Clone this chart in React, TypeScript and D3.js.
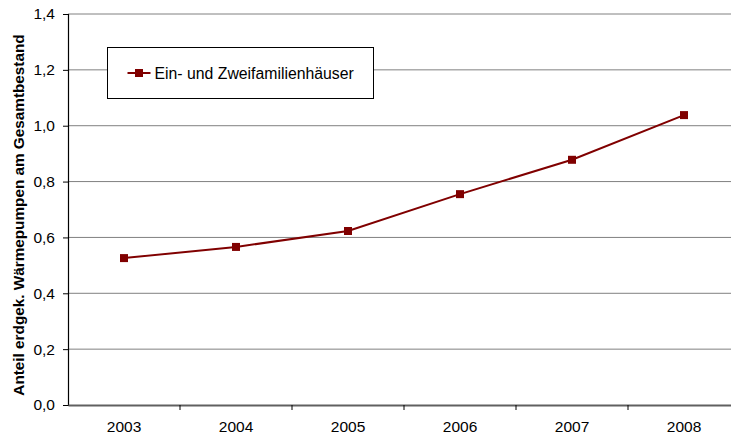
import { useEffect, useRef } from 'react';
import * as d3 from 'd3';

const years = ['2003', '2004', '2005', '2006', '2007', '2008'];
const shares = [0.526, 0.566, 0.623, 0.755, 0.878, 1.038];
const yTicks = [0, 0.2, 0.4, 0.6, 0.8, 1.0, 1.2, 1.4];
const seriesName = 'Ein- und Zweifamilienhäuser';
const yTitle = 'Anteil erdgek. Wärmepumpen am Gesamtbestand';

function App() {
  const ref = useRef<SVGSVGElement>(null);

  const svgWidth = 731;
  const svgHeight = 439;

  useEffect(() => {
    const svg = d3.select(ref.current);
    svg.selectAll('*').remove();

    const left = 68;
    const right = 740;
    const top = 14;
    const bottom = 405;
    const font = 'Liberation Sans, Arial, sans-serif';
    const red = '#800000';

    const x = d3.scaleBand().domain(years).range([left, right]);
    const y = d3.scaleLinear().domain([0, 1.4]).range([bottom, top]);

    // Gridlines
    svg
      .append('g')
      .selectAll()
      .data(yTicks.slice(1))
      .join('line')
      .attr('x1', left)
      .attr('x2', right)
      .attr('y1', (d) => y(d))
      .attr('y2', (d) => y(d))
      .attr('stroke', '#808080')
      .attr('stroke-width', 1);

    // Y axis
    const yAxis = svg
      .append('g')
      .attr('transform', `translate(${left}, 0)`)
      .call(
        d3
          .axisLeft(y)
          .tickValues(yTicks)
          .tickSize(5)
          .tickPadding(8)
          .tickFormat((d) => d3.format('.1f')(d as number).replace('.', ','))
      );
    yAxis.select('.domain').attr('stroke', '#000').attr('stroke-width', 1.2);
    yAxis.selectAll('line').attr('stroke', '#000');
    yAxis
      .selectAll('text')
      .attr('font-family', font)
      .attr('font-size', 15.5)
      .attr('fill', '#000');

    // X axis
    const xAxis = svg
      .append('g')
      .attr('transform', `translate(0, ${bottom})`)
      .call(d3.axisBottom(x).tickSize(0).tickPadding(16));
    xAxis.select('.domain').attr('stroke', '#606060').attr('stroke-width', 2);
    xAxis
      .selectAll('text')
      .attr('font-family', font)
      .attr('font-size', 15.5)
      .attr('fill', '#000');
    xAxis
      .append('g')
      .selectAll()
      .data(years.slice(1))
      .join('line')
      .attr('x1', (d) => x(d) as number)
      .attr('x2', (d) => x(d) as number)
      .attr('y1', 0)
      .attr('y2', 5)
      .attr('stroke', '#000');

    // Y axis title
    svg
      .append('text')
      .attr('transform', 'rotate(-90)')
      .attr('x', -215)
      .attr('y', 24)
      .attr('text-anchor', 'middle')
      .attr('font-family', font)
      .attr('font-size', 15.3)
      .attr('font-weight', 'bold')
      .text(yTitle);

    // Line
    const cx = (d: string) => (x(d) as number) + x.bandwidth() / 2;
    const line = d3
      .line<number>()
      .x((_, i) => cx(years[i]))
      .y((d) => y(d));
    svg
      .append('path')
      .datum(shares)
      .attr('d', line)
      .attr('fill', 'none')
      .attr('stroke', red)
      .attr('stroke-width', 2);

    svg
      .append('g')
      .attr('fill', red)
      .selectAll()
      .data(shares)
      .join('rect')
      .attr('x', (_, i) => cx(years[i]) - 4)
      .attr('y', (d) => y(d) - 4)
      .attr('width', 8)
      .attr('height', 8);

    // Legend
    const legend = svg.append('g').attr('transform', 'translate(107.5, 47.5)');
    legend
      .append('rect')
      .attr('width', 266)
      .attr('height', 51)
      .attr('fill', '#fff')
      .attr('stroke', '#000');
    legend
      .append('line')
      .attr('x1', 20)
      .attr('x2', 43)
      .attr('y1', 25.5)
      .attr('y2', 25.5)
      .attr('stroke', red)
      .attr('stroke-width', 2);
    legend
      .append('rect')
      .attr('x', 27.5)
      .attr('y', 21.5)
      .attr('width', 8)
      .attr('height', 8)
      .attr('fill', red);
    legend
      .append('text')
      .attr('x', 47)
      .attr('y', 31)
      .attr('font-family', font)
      .attr('font-size', 15.8)
      .text(seriesName);
  }, []);

  return (
    <svg
      ref={ref}
      width={svgWidth}
      height={svgHeight}
      style={{ position: 'absolute', left: 0, top: 0, background: '#fff' }}
    ></svg>
  );
}

export default App;
